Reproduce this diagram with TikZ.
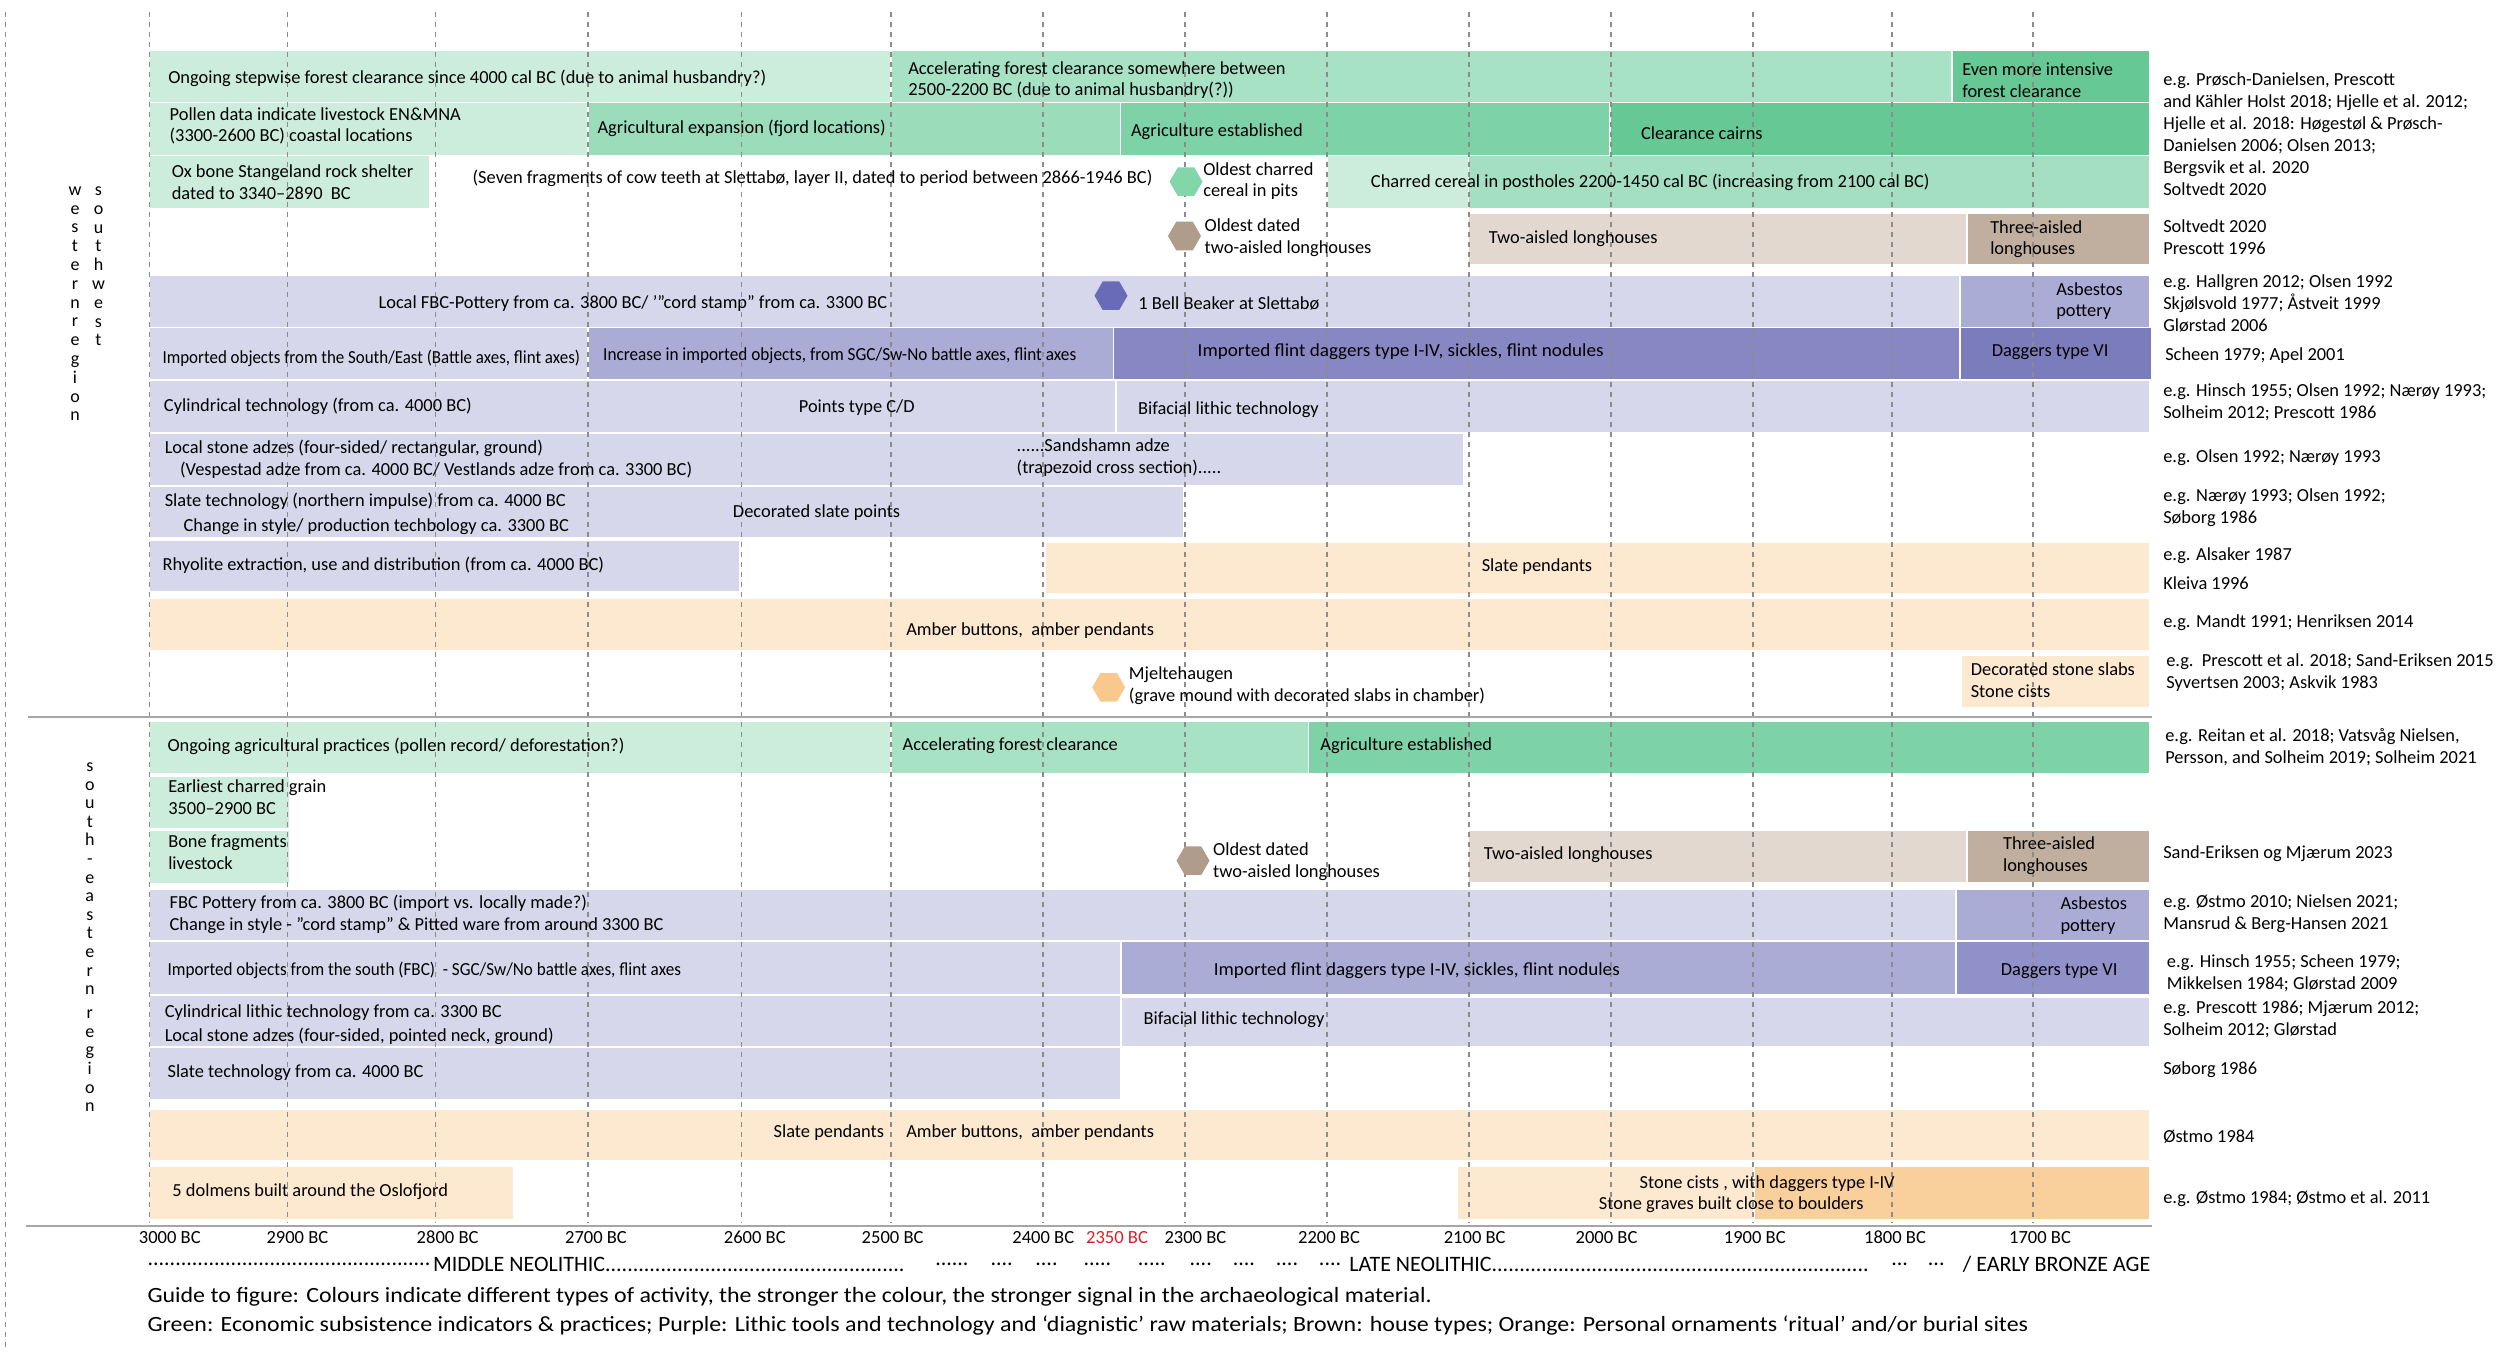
\documentclass[tikz,border=0pt]{standalone}
\usepackage{fontspec}
\setmainfont{Carlito}
\usepackage{tikz}
\usetikzlibrary{shapes.geometric}

\definecolor{lgreen}{RGB}{204,237,220}
\definecolor{agreen}{RGB}{168,226,197}
\definecolor{xgreen}{RGB}{155,220,187}
\definecolor{egreen}{RGB}{126,210,168}
\definecolor{dgreen}{RGB}{102,200,149}
\definecolor{cgreen}{RGB}{163,223,192}
\definecolor{hexgreen}{RGB}{130,214,170}
\definecolor{lbrown}{RGB}{226,216,208}
\definecolor{dbrown}{RGB}{192,174,158}
\definecolor{hexbrown}{RGB}{176,156,138}
\definecolor{lpurple}{RGB}{214,215,235}
\definecolor{mpurple}{RGB}{171,172,214}
\definecolor{dpurple}{RGB}{135,136,195}
\definecolor{vpurple}{RGB}{123,124,188}
\definecolor{spurple}{RGB}{144,145,201}
\definecolor{hexpurple}{RGB}{106,107,184}
\definecolor{lorange}{RGB}{253,232,208}
\definecolor{dorange}{RGB}{249,207,155}
\definecolor{hexorange}{RGB}{248,200,141}
\definecolor{gridgray}{RGB}{140,140,140}
\definecolor{axisgray}{RGB}{166,166,166}
\definecolor{redyear}{RGB}{220,30,40}

\newcommand\dotrun{\leaders\hbox{.}\hfill}
\newcommand\narrowtxt[1]{{\addfontfeatures{FakeStretch=#1}}}

\begin{document}
\begin{tikzpicture}[x=0.75pt,y=0.75pt,yscale=-1,xscale=1,
    bar/.style={draw=white,line width=0.8},
    gridln/.style={draw=gridgray,line width=0.9,dash pattern=on 3.75pt off 3.75pt},
    rulegray/.style={draw=axisgray,line width=1.6},
    bartxt/.style={anchor=west,inner sep=0.75pt,align=left,font=\fontsize{13.8}{16.3}\selectfont},
    reftxt/.style={anchor=west,inner sep=0.75pt,align=left,font=\fontsize{13.8}{16.5}\selectfont},
    yeartxt/.style={inner sep=0.75pt,font=\fontsize{13.9}{16}\selectfont},
    periodtxt/.style={anchor=west,inner sep=0pt,font=\fontsize{16.5}{19}\selectfont},
    guidetxt/.style={anchor=west,inner sep=0pt,font=\fontsize{16.3}{19}\selectfont\addfontfeatures{FakeStretch=1.1}},
    lettercol/.style={anchor=north,inner sep=0pt,align=center,font=\fontsize{13.5}{14.1}\selectfont},
    hexmark/.style={regular polygon,regular polygon sides=6,minimum size=24.75pt,inner sep=0pt,draw=none}
  ]
\useasboundingbox (0,0) rectangle (2500,1360);

%%%%%%%%%% western / southwest region

%Shape: Rectangle [green, row 1]
\draw [bar,fill=lgreen] (149.5,50.7) rectangle (891,102.3);
\draw [bar,fill=agreen] (891,50.7) rectangle (1952,102.3);
\draw [bar,fill=dgreen] (1952,50.7) rectangle (2150,102.3);
%Shape: Rectangle [green, row 2]
\draw [bar,fill=lgreen] (149.5,102.3) rectangle (588,155.7);
\draw [bar,fill=xgreen] (588,102.3) rectangle (1120.7,155.7);
\draw [bar,fill=egreen] (1120.7,102.3) rectangle (1610,155.7);
\draw [bar,fill=dgreen] (1610,102.3) rectangle (2150,155.7);
%Shape: Rectangle [green, row 3]
\draw [bar,fill=lgreen] (149.5,155.7) rectangle (430,208.3);
\draw [bar,fill=lgreen] (1327,155.7) rectangle (1468.6,208.3);
\draw [bar,fill=cgreen] (1468.6,155.7) rectangle (2150,208.3);
%Shape: Rectangle [houses]
\draw [bar,fill=lbrown] (1468.6,213) rectangle (1967,265);
\draw [bar,fill=dbrown] (1967,213) rectangle (2150,265);
%Shape: Rectangle [lithics]
\draw [bar,fill=lpurple] (149.5,275) rectangle (1960,327.7);
\draw [bar,fill=mpurple] (1960,275) rectangle (2150,327.7);
\draw [bar,fill=lpurple] (149.5,327.7) rectangle (588,379.3);
\draw [bar,fill=mpurple] (588,327.7) rectangle (1113.6,379.3);
\draw [bar,fill=dpurple] (1113.6,327.7) rectangle (1960,379.3);
\draw [bar,fill=vpurple] (1960,327.7) rectangle (2152,379.3);
\draw [bar,fill=lpurple] (149.5,380) rectangle (1116,433);
\draw [bar,fill=lpurple] (1116,380) rectangle (2150,433);
\draw [bar,fill=lpurple] (149.5,433) rectangle (1464,486);
\draw [bar,fill=lpurple] (149.5,486) rectangle (1184,537.7);
\draw [bar,fill=lpurple] (149.5,540) rectangle (740,592);
%Shape: Rectangle [ornaments]
\draw [bar,fill=lorange] (1045.6,542.3) rectangle (2150,594);
\draw [bar,fill=lorange] (149.5,598.3) rectangle (2150,650.7);
\draw [bar,fill=lorange] (1961,655) rectangle (2150,707.3);

%%%%%%%%%% south-eastern region

%Shape: Rectangle [green]
\draw [bar,fill=lgreen] (149.5,721.7) rectangle (891,774);
\draw [bar,fill=agreen] (891,721.7) rectangle (1308.7,774);
\draw [bar,fill=egreen] (1308.7,721.7) rectangle (2150,774);
\draw [bar,fill=lgreen] (149.5,776) rectangle (290,828.3);
\draw [bar,fill=lgreen] (149.5,830.7) rectangle (290,883.3);
%Shape: Rectangle [houses]
\draw [bar,fill=lbrown] (1468.6,830) rectangle (1967,882.7);
\draw [bar,fill=dbrown] (1967,830) rectangle (2150,882.7);
%Shape: Rectangle [lithics]
\draw [bar,fill=lpurple] (149.5,889.3) rectangle (1956,940.7);
\draw [bar,fill=mpurple] (1956,889.3) rectangle (2150,940.7);
\draw [bar,fill=lpurple] (149.5,941.7) rectangle (1121,995);
\draw [bar,fill=mpurple] (1121,941.7) rectangle (1956,995);
\draw [bar,fill=spurple] (1956,941.7) rectangle (2150,995);
\draw [bar,fill=lpurple] (149.5,995) rectangle (1121,1047);
\draw [bar,fill=lpurple] (149.5,1047) rectangle (1121,1100);
\draw [bar,fill=lpurple] (1121,997) rectangle (2150,1047);
%Shape: Rectangle [ornaments]
\draw [bar,fill=lorange] (149.5,1109) rectangle (2150,1160.7);
\draw [bar,fill=lorange] (149.5,1166.7) rectangle (514,1219.3);
\draw [bar,fill=lorange] (1457.4,1166.7) rectangle (1754,1219.3);
\draw [bar,fill=dorange] (1754,1166.7) rectangle (2150,1219.3);

%Straight Lines [year grid]
\draw [gridln] (5.6,12) -- (5.6,1350);
\draw [gridln] (149.5,12) -- (149.5,1223);
\draw [gridln] (287.6,12) -- (287.6,1223);
\draw [gridln] (435.6,12) -- (435.6,1223);
\draw [gridln] (588,12) -- (588,1223);
\draw [gridln] (741.5,12) -- (741.5,1223);
\draw [gridln] (891,12) -- (891,1223);
\draw [gridln] (1043,12) -- (1043,1223);
\draw [gridln] (1185,12) -- (1185,1223);
\draw [gridln] (1327,12) -- (1327,1223);
\draw [gridln] (1469,12) -- (1469,1223);
\draw [gridln] (1611,12) -- (1611,1223);
\draw [gridln] (1753,12) -- (1753,1223);
\draw [gridln] (1892,12) -- (1892,1223);
\draw [gridln] (2033,12) -- (2033,1223);

%Straight Lines [region divider and time axis]
\draw [rulegray] (28,716.7) -- (2152,716.7);
\draw [rulegray] (26,1225.7) -- (2152,1225.7);

%Shape: Hexagon
\node [hexmark,fill=hexgreen] (cerealhex) at (1186,181.7) {};
\node [hexmark,fill=hexbrown] (househexw) at (1184.5,236) {};
\node [hexmark,fill=hexpurple] (beakerhex) at (1111,295.7) {};
\node [hexmark,fill=hexorange] (moundhex) at (1108.7,687.3) {};
\node [hexmark,fill=hexbrown] (househexse) at (1193,860.7) {};

% Text Node [region labels]
\draw (75,186.5) node [lettercol] (westlbl) {w\\e\\s\\t\\e\\r\\n\\r\\e\\g\\i\\o\\n};
\draw (98.5,186.5) node [lettercol] (swlbl) {s\\o\\u\\t\\h\\w\\e\\s\\t};
\draw (89.8,762.5) node [lettercol,font=\fontsize{13.5}{13.95}\selectfont] (selbl) {s\\o\\u\\t\\h\\-\\e\\a\\s\\t\\e\\r\\n\\[4pt]r\\e\\g\\i\\o\\n};

% Text Node [western bars]
\draw (167,78) node [bartxt] (ongoingw) {Ongoing stepwise forest clearance since 4000 cal BC (due to animal husbandry?)};
\draw (907,80) node [bartxt] (accelw) {Accelerating forest clearance somewhere between\\2500-2200 BC (due to animal husbandry(?))};
\draw (1961,80) node [bartxt] (intensive) {Even more intensive\\forest clearance};
\draw (168.4,126) node [bartxt] (pollen) {Pollen data indicate livestock EN\&MNA\\(3300-2600 BC) coastal locations};
\draw (596.3,128.3) node [bartxt] (expansion) {Agricultural expansion (fjord locations)};
\draw (1129.8,131.7) node [bartxt] (agriw) {Agriculture established};
\draw (1639.8,132.7) node [bartxt] (cairns) {Clearance cairns};
\draw (170.5,182.5) node [bartxt] (oxbone) {Ox bone Stangeland rock shelter\\dated to 3340–2890\ \ BC};
\draw (471.4,178.3) node [bartxt] (cowteeth) {(Seven fragments of cow teeth at Slettabø, layer II, dated to period between 2866-1946 BC)};
\draw (1202,181.2) node [bartxt] (charredpits) {Oldest charred\\cereal in pits};
\draw (1369.7,182.7) node [bartxt] (postholes) {Charred cereal in postholes 2200-1450 cal BC (increasing from 2100 cal BC)};
\draw (1203.4,238) node [bartxt] (oldhousew) {Oldest dated\\two-aisled longhouses};
\draw (1487.6,238.3) node [bartxt] (twoaislew) {Two-aisled longhouses};
\draw (1989,239.2) node [bartxt] (threeaislew) {Three-aisled\\longhouses};
\draw (377.4,303.3) node [bartxt] (fbcw) {Local FBC-Pottery from ca. 3800 BC/ ’”cord stamp” from ca. 3300 BC};
\draw (1137,303) node [bartxt] (beaker) {1 Bell Beaker at Slettabø};
\draw (2055,301.2) node [bartxt] (asbestosw) {Asbestos\\pottery};
\draw (161.3,358.3) node [bartxt] (importw) {\addfontfeatures{FakeStretch=0.92}Imported objects from the South/East (Battle axes, flint axes)};
\draw (601.9,356) node [bartxt] (increase) {\addfontfeatures{FakeStretch=0.935}Increase in imported objects, from SGC/Sw-No battle axes, flint axes};
\draw (1196.4,351.7) node [bartxt] (daggersw) {\addfontfeatures{FakeStretch=1.04}Imported flint daggers type I-IV, sickles, flint nodules};
\draw (1990.5,351.7) node [bartxt] (daggervw) {Daggers type VI};
\draw (162.7,406) node [bartxt] (cylw) {Cylindrical technology (from ca. 4000 BC)};
\draw (797.6,407.7) node [bartxt] (points) {Points type C/D};
\draw (1136.8,409.3) node [bartxt] (bifacialw) {Bifacial lithic technology};
\draw (163.5,448.3) node [bartxt] (adzesw) {Local stone adzes (four-sided/ rectangular, ground)};
\draw (178.9,470.7) node [bartxt] (vespestad) {(Vespestad adze from ca. 4000 BC/ Vestlands adze from ca. 3300 BC)};
\draw (1015.4,457.5) node [bartxt] (sandshamn) {......Sandshamn adze\\(trapezoid cross section).....};
\draw (163.5,501.7) node [bartxt] (slatew) {Slate technology (northern impulse) from ca. 4000 BC};
\draw (182.4,526.7) node [bartxt] (slatestyle) {Change in style/ production techbology ca. 3300 BC};
\draw (731.7,512.7) node [bartxt] (slatepoints) {Decorated slate points};
\draw (161.3,565.7) node [bartxt] (rhyolite) {Rhyolite extraction, use and distribution (from ca. 4000 BC)};
\draw (1480.5,566.7) node [bartxt] (pendantsw) {Slate pendants};
\draw (905,630.7) node [bartxt] (amberw) {Amber buttons,\ \ amber pendants};
\draw (1127.7,686) node [bartxt] (mjelte) {Mjeltehaugen\\(grave mound with decorated slabs in chamber)};
\draw (1969.5,680.5) node [bartxt] (slabs) {Decorated stone slabs\\Stone cists};

% Text Node [south-eastern bars]
\draw (166.3,746) node [bartxt] (ongoingse) {Ongoing agricultural practices (pollen record/ deforestation?)};
\draw (901.4,746) node [bartxt] (accelse) {Accelerating forest clearance};
\draw (1319.2,745.7) node [bartxt] (agrise) {Agriculture established};
\draw (167,797.2) node [bartxt] (grain) {Earliest charred grain\\3500–2900 BC};
\draw (167,852) node [bartxt] (bones) {Bone fragments\\livestock};
\draw (1211.9,862) node [bartxt] (oldhousese) {Oldest dated\\two-aisled longhouses};
\draw (1482.6,855) node [bartxt] (twoaislese) {Two-aisled longhouses};
\draw (2001.8,855.8) node [bartxt] (threeaislese) {Three-aisled\\longhouses};
\draw (168.4,914) node [bartxt] (fbcse) {FBC Pottery from ca. 3800 BC (import vs. locally made?)\\Change in style - ”cord stamp” \& Pitted ware from around 3300 BC};
\draw (2059.3,915.3) node [bartxt] (asbestosse) {Asbestos\\pottery};
\draw (166.3,970.7) node [bartxt] (importse) {\addfontfeatures{FakeStretch=0.93}Imported objects from the south (FBC)\ \ - SGC/Sw/No battle axes, flint axes};
\draw (1212.6,970.7) node [bartxt] (daggersse) {\addfontfeatures{FakeStretch=1.04}Imported flint daggers type I-IV, sickles, flint nodules};
\draw (1999.6,970.7) node [bartxt] (daggervse) {Daggers type VI};
\draw (163.5,1012.7) node [bartxt] (cylse) {Cylindrical lithic technology from ca. 3300 BC};
\draw (163.5,1036.7) node [bartxt] (adzesse) {Local stone adzes (four-sided, pointed neck, ground)};
\draw (1142.4,1020) node [bartxt] (bifacialse) {Bifacial lithic technology};
\draw (166.3,1072.3) node [bartxt] (slatese) {Slate technology from ca. 4000 BC};
\draw (772.4,1132.7) node [bartxt] (pendantsse) {Slate pendants};
\draw (905,1132.7) node [bartxt] (amberse) {Amber buttons,\ \ amber pendants};
\draw (171.2,1191.7) node [bartxt] (dolmens) {5 dolmens built around the Oslofjord};
\draw (1638.4,1184) node [bartxt] (cists) {Stone cists , with daggers type I-IV};
\draw (1597.7,1205) node [bartxt] (boulders) {Stone graves built close to boulders};

% Text Node [references]
\draw (2162,134.5) node [reftxt] (refa) {e.g. Prøsch-Danielsen, Prescott\\and Kähler Holst 2018; Hjelle et al. 2012;\\Hjelle et al. 2018: Høgestøl \& Prøsch-\\Danielsen 2006; Olsen 2013;\\Bergsvik et al. 2020\\Soltvedt 2020};
\draw (2162,237.2) node [reftxt] (refb) {Soltvedt 2020\\Prescott 1996};
\draw (2162,303.3) node [reftxt] (refc) {e.g. Hallgren 2012; Olsen 1992\\Skjølsvold 1977; Åstveit 1999\\Glørstad 2006};
\draw (2164,355.7) node [reftxt] (refd) {Scheen 1979; Apel 2001};
\draw (2162,402.5) node [reftxt] (refe) {e.g. Hinsch 1955; Olsen 1992; Nærøy 1993;\\Solheim 2012; Prescott 1986};
\draw (2162,457.3) node [reftxt] (reff) {e.g. Olsen 1992; Nærøy 1993};
\draw (2162,507.2) node [reftxt] (refg) {e.g. Nærøy 1993; Olsen 1992;\\Søborg 1986};
\draw (2162,555.7) node [reftxt] (refh) {e.g. Alsaker 1987};
\draw (2162,583.3) node [reftxt] (refi) {Kleiva 1996};
\draw (2162,622.3) node [reftxt] (refj) {e.g. Mandt 1991; Henriksen 2014};
\draw (2165,672.8) node [reftxt] (refk) {e.g.\ \ Prescott et al. 2018; Sand-Eriksen 2015\\Syvertsen 2003; Askvik 1983};
\draw (2164,747.5) node [reftxt] (refl) {e.g. Reitan et al. 2018; Vatsvåg Nielsen,\\Persson, and Solheim 2019; Solheim 2021};
\draw (2162,854) node [reftxt] (refm) {Sand-Eriksen og Mjærum 2023};
\draw (2162,913.5) node [reftxt] (refn) {e.g. Østmo 2010; Nielsen 2021;\\Mansrud \& Berg-Hansen 2021};
\draw (2165.7,973.6) node [reftxt] (refo) {e.g. Hinsch 1955; Scheen 1979;\\Mikkelsen 1984; Glørstad 2009};
\draw (2162,1019.5) node [reftxt] (refp) {e.g. Prescott 1986; Mjærum 2012;\\Solheim 2012; Glørstad};
\draw (2162,1070) node [reftxt] (refq) {Søborg 1986};
\draw (2162,1136.7) node [reftxt] (refr) {Østmo 1984};
\draw (2162,1199) node [reftxt] (refs) {e.g. Østmo 1984; Østmo et al. 2011};

% Text Node [years]
\draw (169.8,1237.7) node [yeartxt] (y3000) {3000 BC};
\draw (297.4,1237.7) node [yeartxt] (y2900) {2900 BC};
\draw (447.6,1237.7) node [yeartxt] (y2800) {2800 BC};
\draw (596,1237.7) node [yeartxt] (y2700) {2700 BC};
\draw (754.8,1237.7) node [yeartxt] (y2600) {2600 BC};
\draw (892.6,1237.7) node [yeartxt] (y2500) {2500 BC};
\draw (1043.3,1237.7) node [yeartxt] (y2400) {2400 BC};
\draw (1117,1237.7) node [yeartxt,text=redyear] (y2350) {2350 BC};
\draw (1195.4,1237.7) node [yeartxt] (y2300) {2300 BC};
\draw (1329,1237.7) node [yeartxt] (y2200) {2200 BC};
\draw (1474.7,1237.7) node [yeartxt] (y2100) {2100 BC};
\draw (1606.5,1237.7) node [yeartxt] (y2000) {2000 BC};
\draw (1754.8,1237.7) node [yeartxt] (y1900) {1900 BC};
\draw (1895,1237.7) node [yeartxt] (y1800) {1800 BC};
\draw (2040,1237.7) node [yeartxt] (y1700) {1700 BC};

% Text Node [periods]
\draw (147.3,1264) node [periodtxt] (mndots) {\hbox to 214.1pt{\dotrun}};
\draw (432.8,1264) node [periodtxt] (middleneo) {MIDDLE NEOLITHIC\hbox to 226.7pt{\dotrun}};
\draw (935,1264) node [periodtxt] (gapdots) {......\hskip16.5pt....\hskip17pt....\hskip19.5pt.....\hskip20pt.....\hskip18pt....\hskip15.7pt....\hskip15.7pt....\hskip15.7pt....};
\draw (1349,1264) node [periodtxt] (lateneo) {LATE NEOLITHIC\hbox to 284pt{\dotrun}};
\draw (1891,1264) node [periodtxt] (lndots) {...\hskip15pt...};
\draw (1962.5,1264) node [periodtxt] (earlybronze) {/ EARLY BRONZE AGE};

% Text Node [guide]
\draw (147.3,1296.7) node [guidetxt] (guidea) {Guide to figure: Colours indicate different types of activity, the stronger the colour, the stronger signal in the archaeological material.};
\draw (147.3,1325.7) node [guidetxt] (guideb) {Green: Economic subsistence indicators \& practices; Purple: Lithic tools and technology and ‘diagnistic’ raw materials; Brown: house types; Orange: Personal ornaments ‘ritual’ and/or burial sites};

\end{tikzpicture}
\end{document}
